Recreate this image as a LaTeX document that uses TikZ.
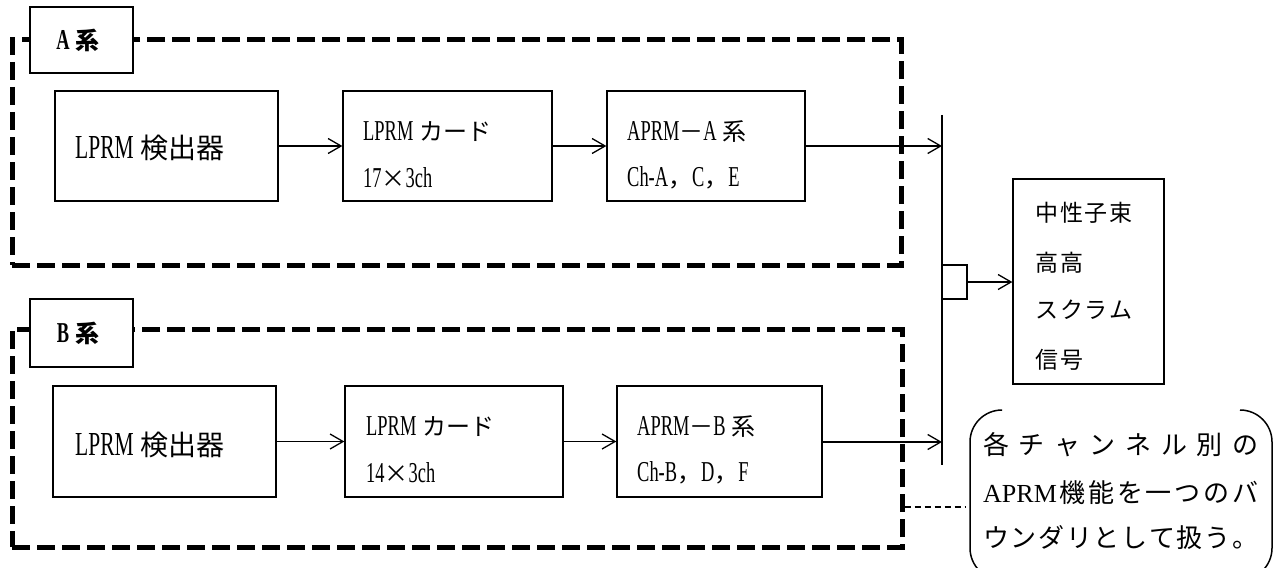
\documentclass[tikz,border=0pt]{standalone}
\usepackage{fontspec}
\setmainfont{Liberation Serif}
\newfontfamily\lat{Liberation Serif}[FakeStretch=0.64]
\newfontfamily\jp{Noto Sans CJK JP}
\newfontfamily\jpsp{Noto Sans CJK JP}[LetterSpace=8]
\usetikzlibrary{arrows.meta}
\newcommand\JPT[1]{{\jp #1}}
\def\latsz{28.8}
\newcommand\LTT[1]{{\lat\fontsize{\latsz}{\latsz}\selectfont #1}}
\tikzset{
  box/.style={draw, line width=1.3pt, inner sep=0pt},
  grp/.style={draw, line width=5pt, dash pattern=on 18pt off 7pt, inner sep=0pt},
  lab/.style={draw, fill=white, line width=1.3pt, inner sep=0pt},
  arr/.style={line width=1.3pt, -{Straight Barb[length=13pt,width=15pt]}},
  txt/.style={inner sep=0pt, anchor=west, font=\fontsize{24}{28}\selectfont\def\latsz{28.8}},
  bigtxt/.style={inner sep=0pt, anchor=west, font=\fontsize{28}{32}\selectfont\def\latsz{33.6}},
  outtxt/.style={inner sep=0pt, anchor=west, font=\fontsize{23}{27}\selectfont\jpsp},
  calltxt/.style={inner sep=0pt, anchor=west, font=\fontsize{26}{30}\selectfont},
  labtxt/.style={inner sep=0pt, font=\fontsize{24}{28}\selectfont\bfseries\def\latsz{28.8}},
  thindash/.style={line width=1.3pt, dash pattern=on 6pt off 4pt},
}
\begin{document}
\begin{tikzpicture}[x=1pt,y=-1pt]
\useasboundingbox (0,0) rectangle (1281,567);
% groups
\node[grp, minimum width=889pt, minimum height=225pt] (grpA) at (456.5,152.5) {};
\node[grp, minimum width=890pt, minimum height=218pt] (grpB) at (457,438) {};
% labels
\node[lab, minimum width=103pt, minimum height=66pt] (labA) at (81.5,40) {};
\node[labtxt] (labAt) at (78,40) {\LTT{A} \JPT{系}};
\node[lab, minimum width=103pt, minimum height=68pt] (labB) at (81.5,333) {};
\node[labtxt] (labBt) at (78,333) {\LTT{B} \JPT{系}};
% A row
\node[box, minimum width=223pt, minimum height=110pt] (a1) at (166.5,146) {};
\node[box, minimum width=209pt, minimum height=110pt] (a2) at (447.5,146) {};
\node[box, minimum width=198pt, minimum height=110pt] (a3) at (706,146) {};
\node[bigtxt] (a1t) at (75,148) {\LTT{LPRM} \JPT{検出器}};
\node[txt] (a2t1) at (363,132) {\LTT{LPRM} \JPT{カード}};
\node[txt] (a2t2) at (363,178) {\LTT{17}\JPT{×}\LTT{3ch}};
\node[txt] (a3t1) at (627,132) {\LTT{APRM}\JPT{－}\LTT{A} \JPT{系}};
\node[txt] (a3t2) at (627,178) {\LTT{Ch-A}\JPT{，}\LTT{C}\JPT{，}\LTT{E}};
% B row
\node[box, minimum width=223pt, minimum height=111pt] (b1) at (164.5,441.5) {};
\node[box, minimum width=218pt, minimum height=111pt] (b2) at (454,441.5) {};
\node[box, minimum width=205pt, minimum height=111pt] (b3) at (719.5,441.5) {};
\node[bigtxt] (b1t) at (75,445) {\LTT{LPRM} \JPT{検出器}};
\node[txt] (b2t1) at (366,427) {\LTT{LPRM} \JPT{カード}};
\node[txt] (b2t2) at (366,473) {\LTT{14}\JPT{×}\LTT{3ch}};
\node[txt] (b3t1) at (637,427) {\LTT{APRM}\JPT{－}\LTT{B} \JPT{系}};
\node[txt] (b3t2) at (637,473) {\LTT{Ch-B}\JPT{，}\LTT{D}\JPT{，}\LTT{F}};
% bus
\coordinate (busT) at (942,115);
\coordinate (busB) at (942,465);
\draw[line width=1.5pt] (busT) -- (busB);
\coordinate (inA) at (942,146);
\coordinate (inB) at (942,442);
% arrows
\draw[arr] (a1) -- (a2);
\draw[arr] (a2) -- (a3);
\draw[arr] (a3.east) -- (inA);
\draw[arr] (b1) -- (b2);
\draw[arr] (b2) -- (b3);
\draw[arr] (b3.east |- inB) -- (inB);
% output
\node[box, line width=1.5pt, minimum width=25pt, minimum height=34pt] (gate) at (954.5,282) {};
\node[box, minimum width=151pt, minimum height=205pt] (out) at (1088.5,281.5) {};
\draw[arr] (gate.east) -- (gate.east -| out.west);
\node[outtxt] (o1) at (1035,213) {中性子束};
\node[outtxt] (o2) at (1035,263) {高高};
\node[outtxt] (o3) at (1035,310) {スクラム};
\node[outtxt] (o4) at (1035,360) {信号};
% callout
\node[inner sep=0pt, minimum width=302pt, minimum height=170pt] (call) at (1121,495) {};
\draw[line width=1.5pt, rounded corners=32pt] (998,410) -- (970,410) -- (970,580) -- (998,580);
\draw[line width=1.5pt, rounded corners=32pt] (1244,410) -- (1272,410) -- (1272,580) -- (1244,580);
\node[calltxt] (c1) at (983,445) {\makebox[275pt][s]{\jp 各\hfil チ\hfil ャ\hfil ン\hfil ネ\hfil ル\hfil 別\hfil の}};
\node[calltxt] (c2) at (983,493) {\makebox[275pt][s]{APRM\hfil\jp 機\hfil 能\hfil を\hfil 一\hfil つ\hfil の\hfil バ}};
\node[calltxt] (c3) at (983,538) {\makebox[275pt][s]{\jp ウ\hfil ン\hfil ダ\hfil リ\hfil と\hfil し\hfil て\hfil 扱\hfil う\hfil 。}};
\coordinate (cb) at (966,507);
\draw[thindash] (cb -| grpB.east) -- (cb);
\end{tikzpicture}
\end{document}
